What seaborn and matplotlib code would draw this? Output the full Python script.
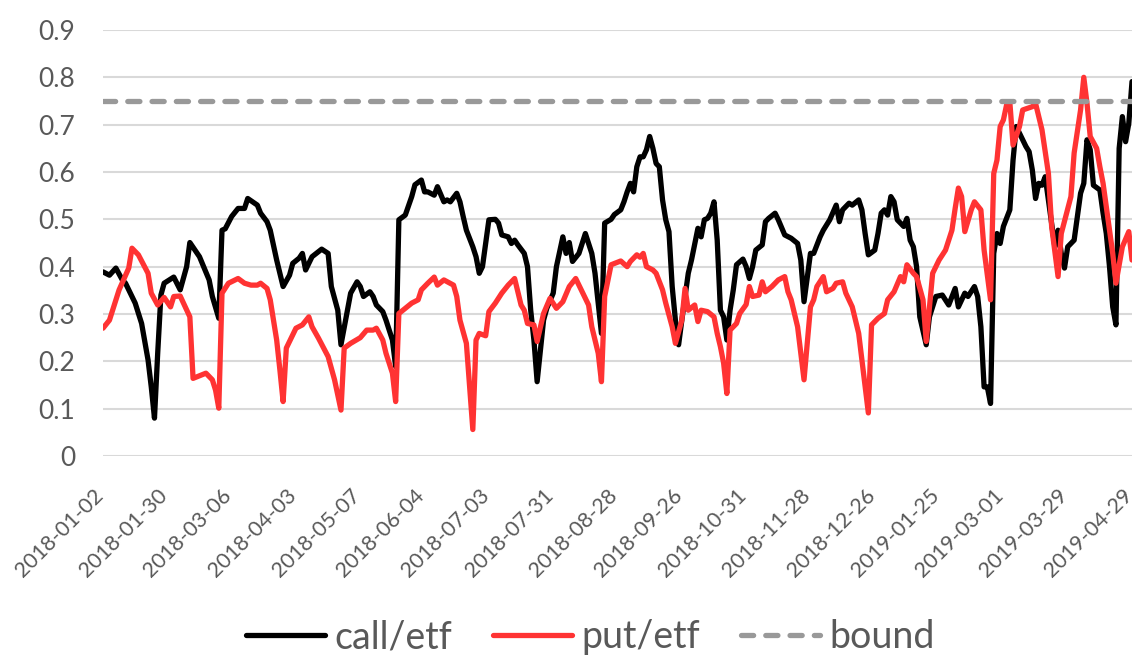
import matplotlib
matplotlib.use("Agg")
import matplotlib.pyplot as plt
import matplotlib.transforms as mtransforms
import seaborn as sns
import numpy as np

# ---- data (trading-day index, ratio) ----
call_pts = [(0, .389), (2, .382), (4, .397), (6, .372), (7, .365), (9, .337), (10, .323), (12, .280),
            (14, .203), (15, .146), (16, .080), (17, .217), (18, .340), (19, .365), (22, .378), (24, .351),
            (26, .400), (27, .451), (30, .421), (33, .372), (34, .337), (36, .291), (37, .477), (38, .480),
            (40, .506), (42, .523), (44, .523), (45, .544), (48, .530), (49, .513), (51, .495), (52, .477),
            (54, .414), (56, .358), (58, .382), (59, .407), (61, .418), (62, .428), (63, .393), (65, .421),
            (68, .437), (70, .428), (71, .358), (73, .308), (74, .235), (76, .308), (77, .344), (79, .368),
            (80, .358), (81, .337), (83, .347), (84, .337), (85, .319), (87, .305), (88, .287), (90, .245),
            (91, .189), (92, .499), (94, .509), (96, .548), (97, .573), (99, .583), (100, .558), (101, .558),
            (103, .551), (104, .569), (106, .537), (107, .541), (108, .537), (110, .555), (111, .537), (112, .506),
            (113, .477), (115, .442), (116, .421), (117, .386), (118, .400), (119, .450), (120, .499), (122, .500),
            (123, .492), (124, .467), (126, .463), (127, .449), (128, .456), (129, .446), (131, .428), (132, .400),
            (133, .308), (134, .245), (135, .157), (137, .287), (138, .312), (140, .344), (141, .400), (143, .463),
            (144, .428), (145, .451), (146, .411), (148, .428), (150, .470), (152, .428), (153, .386), (155, .259),
            (156, .492), (158, .500), (159, .510), (161, .520), (162, .537), (163, .558), (164, .576), (165, .558),
            (166, .611), (167, .632), (168, .632), (169, .647), (170, .675), (171, .650), (172, .618), (173, .611),
            (174, .541), (175, .499), (176, .474), (177, .358), (178, .287), (179, .235), (180, .287), (181, .337),
            (182, .386), (183, .414), (185, .481), (186, .463), (187, .499), (188, .502), (189, .513), (190, .537),
            (191, .456), (192, .308), (193, .294), (194, .245), (195, .308), (196, .351), (197, .404), (199, .416),
            (200, .400), (201, .375), (202, .400), (203, .435), (205, .446), (206, .495), (207, .502), (209, .513),
            (210, .499), (212, .467), (214, .460), (216, .449), (217, .414), (218, .326), (220, .428), (221, .428),
            (223, .463), (224, .477), (226, .499), (228, .530), (229, .495), (230, .520), (232, .534), (233, .530),
            (235, .541), (236, .520), (237, .470), (238, .425), (240, .435), (241, .470), (242, .513), (243, .520),
            (244, .509), (245, .548), (246, .537), (247, .499), (249, .485), (250, .502), (251, .456), (252, .442),
            (253, .400), (254, .294), (256, .235), (257, .294), (259, .337), (261, .340), (263, .319), (265, .354),
            (266, .315), (268, .344), (269, .337), (271, .358), (272, .337), (273, .273), (274, .146), (275, .146),
            (276, .111), (277, .428), (278, .470), (279, .449), (280, .485), (282, .520), (283, .625), (284, .696),
            (285, .682), (287, .654), (288, .643), (289, .604), (290, .544), (291, .576), (292, .572), (293, .590),
            (294, .541), (295, .492), (296, .442), (297, .477), (298, .428), (299, .397), (300, .442), (302, .456),
            (303, .506), (304, .555), (305, .576), (306, .668), (307, .647), (308, .572), (310, .562), (311, .513),
            (312, .470), (313, .400), (314, .315), (315, .277), (316, .650), (317, .717), (318, .664), (319, .703),
            (320, .791)]

put_pts = [(0, .270), (2, .287), (5, .351), (8, .397), (9, .439), (11, .425), (14, .386), (15, .344),
           (17, .319), (19, .335), (21, .315), (22, .337), (24, .338), (27, .294), (28, .164), (32, .175),
           (34, .161), (35, .139), (36, .101), (37, .344), (39, .365), (42, .375), (44, .365), (46, .361),
           (48, .361), (49, .365), (51, .354), (52, .330), (54, .245), (55, .182), (56, .115), (57, .228),
           (59, .256), (60, .270), (62, .277), (64, .294), (65, .273), (67, .249), (70, .210), (72, .161),
           (74, .097), (75, .228), (77, .238), (80, .250), (82, .266), (84, .266), (85, .270), (87, .245),
           (88, .217), (90, .175), (91, .115), (92, .301), (94, .312), (96, .323), (98, .330), (99, .351),
           (101, .365), (103, .378), (104, .361), (106, .372), (109, .361), (110, .337), (111, .287), (113, .238),
           (114, .146), (115, .056), (116, .245), (117, .259), (119, .254), (120, .305), (122, .323), (124, .344),
           (126, .361), (128, .375), (130, .319), (131, .308), (132, .280), (134, .277), (135, .242), (137, .301),
           (139, .333), (141, .312), (143, .326), (145, .358), (147, .375), (149, .347), (151, .319), (152, .273),
           (154, .217), (155, .157), (156, .337), (158, .404), (161, .412), (163, .400), (164, .411), (166, .425),
           (167, .420), (168, .428), (169, .400), (171, .393), (172, .386), (174, .351), (175, .323), (177, .273),
           (178, .238), (180, .287), (181, .354), (182, .308), (184, .319), (185, .284), (186, .308), (188, .305),
           (190, .294), (191, .259), (192, .231), (193, .196), (194, .132), (195, .266), (197, .280), (198, .301),
           (200, .320), (201, .358), (202, .337), (204, .340), (205, .368), (206, .347), (208, .358), (210, .372),
           (212, .379), (213, .347), (214, .330), (216, .273), (217, .217), (218, .161), (220, .315), (221, .330),
           (222, .358), (224, .379), (225, .347), (227, .354), (228, .365), (230, .368), (231, .344), (233, .315),
           (235, .259), (236, .203), (237, .146), (238, .091), (239, .277), (241, .291), (243, .301), (244, .330),
           (246, .347), (248, .379), (249, .368), (250, .404), (252, .386), (253, .379), (255, .330), (256, .242),
           (257, .315), (258, .386), (260, .414), (262, .435), (263, .456), (264, .477), (265, .523), (266, .566),
           (267, .548), (268, .474), (270, .520), (271, .537), (273, .520), (274, .435), (276, .330), (277, .597),
           (278, .625), (279, .696), (280, .710), (281, .742), (282, .748), (283, .657), (285, .696), (286, .731),
           (289, .738), (290, .745), (292, .689), (294, .597), (295, .485), (297, .379), (298, .470), (301, .548),
           (302, .640), (304, .731), (305, .800), (306, .745), (307, .675), (309, .650), (310, .611), (311, .576),
           (312, .527), (314, .428), (315, .365), (317, .442), (319, .474), (320, .414)]

bound = 0.75

tick_labels = ["2018-01-02", "2018-01-30", "2018-03-06", "2018-04-03", "2018-05-07", "2018-06-04",
               "2018-07-03", "2018-07-31", "2018-08-28", "2018-09-26", "2018-10-31", "2018-11-28",
               "2018-12-26", "2019-01-25", "2019-03-01", "2019-03-29", "2019-04-29"]
tick_step = 20  # a label every 20 trading days

call_day, call_ratio = zip(*call_pts)
put_day, put_ratio = zip(*put_pts)

# ---- style ----
sns.set_theme(style="white")
plt.rcParams['font.family'] = ['Lato', 'DejaVu Sans']
text_color = '#595959'

fig = plt.figure(figsize=(11.46, 6.72), dpi=100)
ax = fig.add_axes([0.0899, 0.3214, 0.8979, 0.634])

line_kw = dict(lw=3.8, solid_joinstyle='round', solid_capstyle='round')
sns.lineplot(x=list(call_day), y=list(call_ratio), ax=ax, color='black', label='call/etf', **line_kw)
sns.lineplot(x=list(put_day), y=list(put_ratio), ax=ax, color='#ff3333', label='put/etf', **line_kw)
ax.axhline(bound, color='#999999', lw=3.8, dashes=(2.3, 2.3), dash_capstyle='round', label='bound')

# axes
ax.set_xlim(0, tick_step * (len(tick_labels) - 1))
ax.set_ylim(0, 0.9)
yt = np.round(np.arange(0, 0.91, 0.1), 1)
ax.set_yticks(yt)
ax.set_yticklabels([f"{v:g}" for v in yt])
ax.set_xticks(range(0, tick_step * len(tick_labels), tick_step))
ax.set_xticklabels(tick_labels, rotation=45, ha='right', va='center', rotation_mode='anchor')
ax.tick_params(axis='x', length=0, pad=26, labelsize=15.5, labelcolor=text_color)
ax.tick_params(axis='y', length=0, pad=20, labelsize=19, labelcolor=text_color)
offset = mtransforms.ScaledTranslation(-2.2 / 72, 0, fig.dpi_scale_trans)
for lab in ax.get_xticklabels():
    lab.set_transform(lab.get_transform() + offset)

ax.yaxis.grid(True, color='#d9d9d9', lw=1.5)
ax.xaxis.grid(False)
ax.set_axisbelow(True)
sns.despine(ax=ax, left=True, bottom=True)
ax.set_xlabel('')
ax.set_ylabel('')

handles, labels = ax.get_legend_handles_labels()
ax.get_legend().remove()
fig.legend(handles, labels, loc='center', bbox_to_anchor=(0.515, 0.052), ncol=3, frameon=False,
           fontsize=27, handlelength=2.1, handletextpad=0.25, columnspacing=1.1, labelcolor=text_color)

fig.savefig('out.png', dpi=100)
